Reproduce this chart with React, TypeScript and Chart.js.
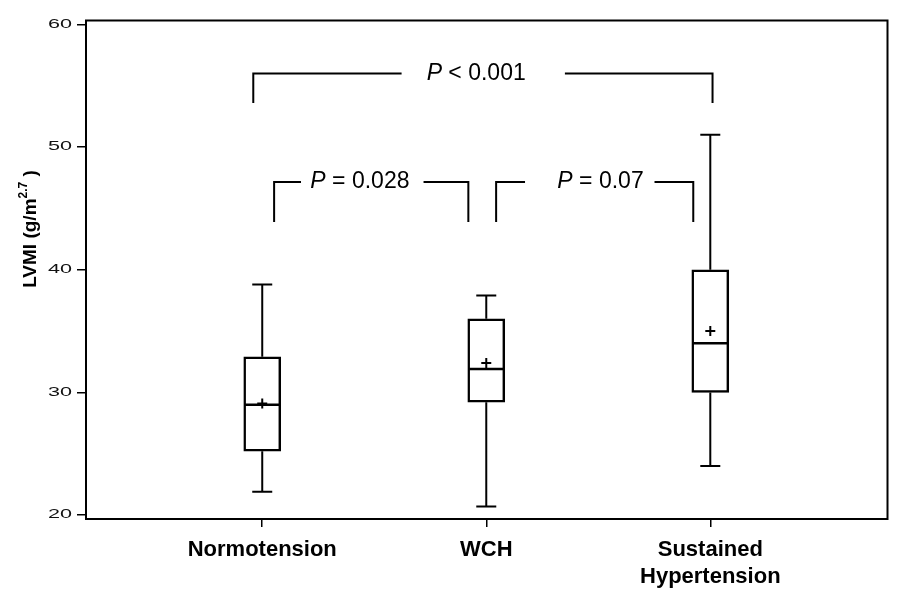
import React, { useEffect, useRef } from "react";
import { Chart, registerables } from "chart.js";

Chart.register(...registerables);

// ---- data ----
const categories: (string | string[])[] = ["Normotension", "WCH", ["Sustained", "Hypertension"]];
const xPositions = [1, 2, 3];
const mins = [21.9, 20.7, 24.0];
const q1s = [25.2, 29.2, 30.0];
const medians = [29.0, 31.9, 34.0];
const q3s = [32.9, 36.0, 40.0];
const maxs = [38.8, 37.9, 51.0];
const means = [29.1, 32.4, 35.0];
const yTicks = [20, 30, 40, 50, 60];

// significance brackets
const bracketLabels = ["< 0.001", "= 0.028", "= 0.07"];
const bracketLeft = [0.96, 1.053, 2.044];
const bracketRight = [3.01, 1.92, 2.924];
const bracketGapLeft = [1.622, 1.173, 2.173];
const bracketGapRight = [2.351, 1.72, 2.751];
const bracketLabelX = [1.955, 1.436, 2.51];
const bracketTop = [56.0, 47.15, 47.15];
const bracketBottom = [53.6, 43.9, 43.9];

const FONT = '"Liberation Sans", Arial, sans-serif';

const decorPlugin = {
  id: "decor",
  afterDraw(chart: any) {
    const ctx = chart.ctx as CanvasRenderingContext2D;
    const xs = chart.scales.x;
    const ys = chart.scales.y;
    const ca = chart.chartArea;
    ctx.save();
    // frame
    ctx.strokeStyle = "#000";
    ctx.lineWidth = 2;
    ctx.strokeRect(ca.left, ca.top, ca.right - ca.left, ca.bottom - ca.top);

    // y tick labels (wide style)
    ctx.fillStyle = "#111";
    ctx.font = `12px ${FONT}`;
    ctx.textAlign = "right";
    ctx.textBaseline = "middle";
    yTicks.forEach((v) => {
      const py = ys.getPixelForValue(v);
      ctx.save();
      ctx.translate(ca.left - 14, py);
      ctx.scale(1.8, 1);
      ctx.fillText(String(v), 0, 0);
      ctx.restore();
    });

    // y axis title
    ctx.save();
    ctx.fillStyle = "#000";
    ctx.translate(36, 229);
    ctx.rotate(-Math.PI / 2);
    ctx.textAlign = "left";
    ctx.textBaseline = "alphabetic";
    const mainFont = `bold 19px ${FONT}`;
    const supFont = `bold 12px ${FONT}`;
    ctx.font = mainFont;
    const p1 = "LVMI (g/m";
    const w1 = ctx.measureText(p1).width;
    ctx.font = supFont;
    const p2 = "2.7";
    const w2 = ctx.measureText(p2).width;
    ctx.font = mainFont;
    const p3 = " )";
    const w3 = ctx.measureText(p3).width;
    let sx = -(w1 + w2 + w3) / 2;
    ctx.fillText(p1, sx, 0);
    sx += w1;
    ctx.font = supFont;
    ctx.fillText(p2, sx, -9);
    sx += w2;
    ctx.font = mainFont;
    ctx.fillText(p3, sx, 0);
    ctx.restore();

    // brackets
    ctx.strokeStyle = "#000";
    ctx.lineWidth = 2;
    ctx.fillStyle = "#000";
    bracketLabels.forEach((lab, i) => {
      const xl = xs.getPixelForValue(bracketLeft[i]);
      const xr = xs.getPixelForValue(bracketRight[i]);
      const gl = xs.getPixelForValue(bracketGapLeft[i]);
      const gr = xs.getPixelForValue(bracketGapRight[i]);
      const yt = ys.getPixelForValue(bracketTop[i]);
      const yb = ys.getPixelForValue(bracketBottom[i]);
      ctx.beginPath();
      ctx.moveTo(xl, yb);
      ctx.lineTo(xl, yt);
      ctx.lineTo(gl, yt);
      ctx.moveTo(gr, yt);
      ctx.lineTo(xr, yt);
      ctx.lineTo(xr, yb);
      ctx.stroke();
      const cx = xs.getPixelForValue(bracketLabelX[i]);
      const itFont = `italic 23px ${FONT}`;
      const rgFont = `23px ${FONT}`;
      ctx.font = itFont;
      const wp = ctx.measureText("P").width;
      ctx.font = rgFont;
      const rest = " " + lab;
      const wr = ctx.measureText(rest).width;
      let tx = cx - (wp + wr) / 2;
      ctx.textAlign = "left";
      ctx.textBaseline = "middle";
      ctx.font = itFont;
      ctx.fillText("P", tx, yt);
      tx += wp;
      ctx.font = rgFont;
      ctx.fillText(rest, tx, yt);
    });
    ctx.restore();
  },
};

export default function App() {
  const ref = useRef<HTMLCanvasElement | null>(null);
  useEffect(() => {
    if (!ref.current) return;
    const stems: any[] = [];
    xPositions.forEach((x, i) => {
      stems.push({ x, y: q3s[i] }, { x, y: maxs[i] }, { x, y: null });
      stems.push({ x, y: q1s[i] }, { x, y: mins[i] }, { x, y: null });
    });
    const caps: any[] = [];
    xPositions.forEach((x, i) => {
      caps.push({ x, y: maxs[i] }, { x, y: mins[i] });
    });
    const chart = new Chart(ref.current, {
      type: "bar",
      data: {
        datasets: [
          {
            type: "bar",
            data: xPositions.map((x, i) => ({ x, y: [q1s[i], q3s[i]] })) as any,
            backgroundColor: "#fff",
            borderColor: "#000",
            borderWidth: 2.5,
            borderSkipped: false,
            barThickness: 37,
            order: 3,
          } as any,
          {
            type: "line",
            data: stems,
            borderColor: "#000",
            borderWidth: 2,
            pointRadius: 0,
            spanGaps: false,
            fill: false,
            order: 2,
          } as any,
          {
            type: "scatter",
            data: caps,
            pointStyle: "line",
            pointRadius: 10,
            borderColor: "#000",
            borderWidth: 2,
            order: 2,
          } as any,
          {
            type: "scatter",
            data: xPositions.map((x, i) => ({ x, y: medians[i] })),
            pointStyle: "line",
            pointRadius: 18,
            borderColor: "#000",
            borderWidth: 2.5,
            order: 1,
          } as any,
          {
            type: "scatter",
            data: xPositions.map((x, i) => ({ x, y: means[i] })),
            pointStyle: "cross",
            pointRadius: 5,
            borderColor: "#000",
            borderWidth: 2,
            order: 0,
          } as any,
        ],
      },
      options: {
        responsive: false,
        animation: false,
        events: [],
        layout: { padding: { left: 0, top: 20, right: 17, bottom: 0 } },
        plugins: {
          legend: { display: false },
          tooltip: { enabled: false },
        },
        scales: {
          x: {
            type: "linear",
            min: 0.2133,
            max: 3.791,
            offset: false,
            afterBuildTicks: (s: any) => {
              s.ticks = xPositions.map((v) => ({ value: v }));
            },
            afterFit: (s: any) => {
              s.height = 83;
            },
            grid: {
              offset: false,
              drawOnChartArea: false,
              drawTicks: true,
              tickLength: 8,
              color: "#000",
              lineWidth: 1.5,
            },
            border: { display: false },
            ticks: {
              autoSkip: false,
              maxRotation: 0,
              padding: 10,
              color: "#000",
              font: { family: FONT, size: 22, weight: "bold" },
              callback: (_v: any, i: number) => categories[i],
            },
          } as any,
          y: {
            type: "linear",
            min: 19.674,
            max: 60.326,
            afterBuildTicks: (s: any) => {
              s.ticks = yTicks.map((v) => ({ value: v }));
            },
            afterFit: (s: any) => {
              s.width = 86;
            },
            grid: {
              drawOnChartArea: false,
              drawTicks: true,
              tickLength: 9,
              color: "#000",
              lineWidth: 1.5,
            },
            border: { display: false },
            ticks: { display: false },
          } as any,
        },
      },
      plugins: [decorPlugin],
    });
    return () => chart.destroy();
  }, []);
  return (
    <div style={{ position: "absolute", left: 0, top: 0, width: 908, height: 602, background: "#fff" }}>
      <canvas ref={ref} width={908} height={602} style={{ display: "block" }} />
    </div>
  );
}
